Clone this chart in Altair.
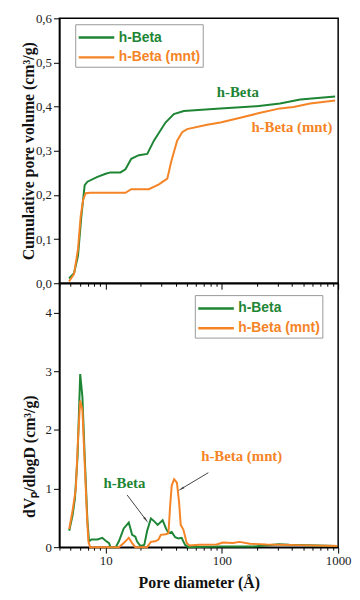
import altair as alt
import pandas as pd

GREEN = "#1e8535"
ORANGE = "#f58426"
SERIES = ["h-Beta", "h-Beta (mnt)"]

# Cumulative pore volume (top panel)
cum_d_hb = [4.84, 5.35, 5.78, 6.18, 6.6, 6.97, 8.5, 10, 11, 13.4, 14.8, 16.6, 19.3, 22.8, 26, 32.7, 38.6, 47, 97, 200, 316, 472, 942]
cum_v_hb = [0.011, 0.023, 0.062, 0.152, 0.222, 0.23, 0.241, 0.248, 0.251, 0.251, 0.258, 0.282, 0.29, 0.293, 0.323, 0.364, 0.383, 0.39, 0.396, 0.401, 0.407, 0.416, 0.423]
cum_d_mnt = [4.84, 5.35, 5.78, 6.1, 6.4, 6.73, 7.4, 14.8, 16.6, 23.5, 28.7, 33.9, 36.6, 41.2, 45.5, 50.2, 74.6, 97, 144, 214, 316, 413, 575, 942]
cum_v_mnt = [0.004, 0.021, 0.077, 0.152, 0.189, 0.204, 0.205, 0.205, 0.213, 0.213, 0.224, 0.237, 0.275, 0.323, 0.342, 0.349, 0.359, 0.364, 0.375, 0.386, 0.396, 0.399, 0.407, 0.414]

# Pore size distribution dVp/dlogD (bottom panel)
psd_d_hb = [4.86, 5.2, 5.44, 5.73, 6.04, 6.31, 6.6, 6.97, 7.2, 7.55, 8.5, 9.35, 10, 10.7, 11, 12.2, 13, 14.3, 15.8, 16.9, 18, 18.6, 19.9, 21.5, 22.7, 24.5, 26.2, 28, 30.9, 33, 34.7, 37, 39.6, 42.2, 45, 48.2, 51.4, 96, 185, 310, 380, 980]
psd_v_hb = [0.28, 0.55, 0.83, 1.55, 2.95, 2.56, 1.55, 0.44, 0.1, 0.13, 0.13, 0.16, 0.11, 0.07, 0.0, 0.0, 0.1, 0.32, 0.42, 0.21, 0.18, 0.1, 0.02, 0.04, 0.27, 0.49, 0.44, 0.38, 0.46, 0.32, 0.24, 0.26, 0.17, 0.15, 0.16, 0.04, 0.0, 0.01, 0.01, 0.05, 0.04, 0.02]
psd_d_mnt = [4.86, 5.2, 5.54, 5.8, 6.04, 6.31, 6.6, 6.9, 7.1, 7.35, 13, 14.3, 15.8, 16.9, 18, 22.7, 24.5, 26.7, 28.5, 29.8, 33, 34.7, 35.9, 37, 38.8, 41, 42.8, 44.2, 46.6, 49.8, 52.5, 64, 90, 102, 124, 142, 174, 240, 460, 980]
psd_v_mnt = [0.31, 0.63, 1.0, 1.89, 2.5, 2.34, 1.44, 0.55, 0.1, 0.0, 0.0, 0.07, 0.16, 0.07, 0.0, 0.0, 0.09, 0.1, 0.13, 0.21, 0.22, 0.24, 0.72, 1.05, 1.16, 1.1, 0.77, 0.38, 0.3, 0.07, 0.03, 0.04, 0.045, 0.08, 0.07, 0.09, 0.06, 0.045, 0.035, 0.02]

# Annotations
top_ann_text = ["h-Beta", "h-Beta (mnt)"]
top_ann_x = [137, 400]
top_ann_y = [0.432, 0.354]
bot_ann_text = ["h-Beta (mnt)", "h-Beta"]
bot_ann_x = [148, 14.5]
bot_ann_y = [1.55, 1.09]
arrow_x = [15.3, 76.4]
arrow_y = [0.89, 1.27]
arrow_x2 = [22, 45.2]
arrow_y2 = [0.476, 1.0]
arrow_angle = [143, 240]

x_ticks = [4, 5, 6, 7, 8, 9, 10, 20, 30, 40, 50, 60, 70, 80, 90, 100,
           200, 300, 400, 500, 600, 700, 800, 900, 1000]
top_y_ticks = [0.0, 0.05, 0.1, 0.15, 0.2, 0.25, 0.3, 0.35, 0.4, 0.45, 0.5, 0.55, 0.6]
bot_y_ticks = [0, 0.5, 1, 1.5, 2, 2.5, 3, 3.5, 4]

cum_df = pd.concat([
    pd.DataFrame({"d": cum_d_hb, "v": cum_v_hb, "s": SERIES[0]}),
    pd.DataFrame({"d": cum_d_mnt, "v": cum_v_mnt, "s": SERIES[1]}),
])
psd_df = pd.concat([
    pd.DataFrame({"d": psd_d_hb, "v": psd_v_hb, "s": SERIES[0]}),
    pd.DataFrame({"d": psd_d_mnt, "v": psd_v_mnt, "s": SERIES[1]}),
])
top_ann = pd.DataFrame({"t": top_ann_text, "x": top_ann_x, "y": top_ann_y})
bot_ann = pd.DataFrame({"t": bot_ann_text, "x": bot_ann_x, "y": bot_ann_y})
arrows = pd.DataFrame({"x": arrow_x, "y": arrow_y, "x2": arrow_x2, "y2": arrow_y2,
                       "a": arrow_angle})

W = 282
SERIF = "Liberation Serif"
SANS = "Liberation Sans"

major_x_test = "datum.value == 10 || datum.value == 100 || datum.value == 1000"
xscale = alt.Scale(type="log", domain=[4, 1000], nice=False)

def color_enc(lx, ly):
    return alt.Color(
        "s:N",
        scale=alt.Scale(domain=SERIES, range=[GREEN, ORANGE]),
        legend=alt.Legend(
            title=None, orient="none", legendX=lx, legendY=ly,
            symbolType="M-1,0L2.6,0", symbolSize=400, symbolStrokeWidth=2.5,
            symbolFillColor="transparent",
            labelFont=SANS, labelFontSize=14, labelFontWeight="bold",
            labelColor=alt.ExprRef(expr=f"datum.label == 'h-Beta' ? '{GREEN}' : '{ORANGE}'"),
            strokeColor="#999999", padding=2, rowPadding=1, labelOffset=19,
            fillColor="white",
        ),
    )

x_top = alt.X("d:Q", scale=xscale, axis=alt.Axis(
    values=x_ticks, labels=False, title=None, grid=False,
    tickSize={"condition": {"test": major_x_test, "value": 6}, "value": 3}))
x_bot = alt.X("d:Q", scale=xscale, title="Pore diameter (Å)", axis=alt.Axis(
    values=x_ticks, grid=False, labelFlush=False,
    labelExpr=f"({major_x_test}) ? format(datum.value, 'd') : ''",
    tickSize={"condition": {"test": major_x_test, "value": 6}, "value": 3},
    titlePadding=7))

y_top = alt.Y("v:Q", scale=alt.Scale(domain=[0, 0.6], nice=False),
              title="Cumulative pore volume (cm³/g)",
              axis=alt.Axis(values=top_y_ticks, grid=False,
                            labelExpr="(round(datum.value*100) % 10 == 0) ? replace(format(datum.value, '.1f'), '.', ',') : ''",
                            tickSize={"condition": {"test": "round(datum.value*100) % 10 == 0", "value": 6}, "value": 3},
                            titleX=-23))
y_bot = alt.Y("v:Q", scale=alt.Scale(domain=[0, 4.5], nice=False),
              title="dVₚ/dlogD (cm³/g)",
              axis=alt.Axis(values=bot_y_ticks, grid=False,
                            labelExpr="(datum.value % 1 == 0) ? format(datum.value, 'd') : ''",
                            tickSize={"condition": {"test": "datum.value % 1 == 0", "value": 6}, "value": 3},
                            titleX=-22, titleY=175))

top_lines = alt.Chart(cum_df).mark_line(strokeWidth=2).encode(
    x=x_top, y=y_top, color=color_enc(16, 6), order="d:Q")
top_text = alt.Chart(top_ann).mark_text(font=SERIF, fontSize=15, fontWeight="bold").encode(
    x=alt.X("x:Q", scale=xscale), y=alt.Y("y:Q"),
    text="t:N",
    color=alt.Color("t:N", scale=alt.Scale(domain=SERIES, range=[GREEN, ORANGE]), legend=None))
top = alt.layer(top_lines, top_text).resolve_scale(color="independent").properties(width=W, height=268)

bot_lines = alt.Chart(psd_df).mark_line(strokeWidth=2).encode(
    x=x_bot, y=y_bot, color=color_enc(137, 12), order="d:Q")
bot_text = alt.Chart(bot_ann).mark_text(font=SERIF, fontSize=15, fontWeight="bold").encode(
    x=alt.X("x:Q", scale=xscale), y=alt.Y("y:Q"),
    text="t:N",
    color=alt.Color("t:N", scale=alt.Scale(domain=SERIES, range=[GREEN, ORANGE]), legend=None))
arrow_lines = alt.Chart(arrows).mark_rule(color="#444444", strokeWidth=1).encode(
    x=alt.X("x:Q", scale=xscale), y="y:Q", x2="x2:Q", y2="y2:Q")
arrow_heads = alt.Chart(arrows).mark_point(shape="wedge", filled=True, color="#444444", size=70, opacity=1).encode(
    x=alt.X("x2:Q", scale=xscale), y="y2:Q", angle=alt.Angle("a:Q", scale=None))
bot = alt.layer(bot_lines, bot_text, arrow_lines, arrow_heads).resolve_scale(color="independent").properties(width=W, height=267)

chart = alt.vconcat(top, bot, spacing=0, bounds="flush").resolve_scale(color="independent").properties(
    padding={"left": 12, "top": 0, "right": 0, "bottom": 5}
).configure_view(stroke="black", strokeWidth=1.5).configure_axis(
    domainColor="black", domainWidth=1.5, tickColor="black", tickWidth=1,
    labelFont=SERIF, labelFontSize=13, labelColor="#222222", labelPadding=2,
    titleFont=SERIF, titleFontSize=16, titleFontWeight="bold", titleColor="#111111",
)

chart.save("out.html", embed_options={"renderer": "svg", "actions": False})
